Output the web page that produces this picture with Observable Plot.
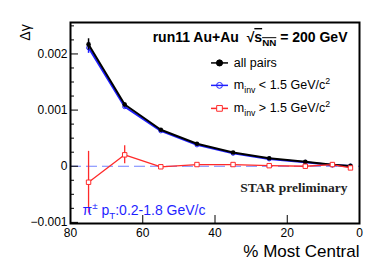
<!DOCTYPE html>
<html><head><meta charset="utf-8">
<script src="https://cdn.jsdelivr.net/npm/d3@7"></script>
<script src="https://cdn.jsdelivr.net/npm/@observablehq/plot@0.6"></script>
<style>body{margin:0;background:#fff} svg{display:block}</style>
</head><body><div id="chart"></div>
<script>
// ---- data ----
const centrality = [75, 65, 55, 45, 35, 25, 15, 7.5, 2.5];
const allPairs    = [0.00217, 0.00110, 0.00065, 0.00040, 0.000244, 0.000143, 0.000078, 0.000025, 0.000006];
const allPairsErr = [0.00010, 0.00003, 0.00001, 0.00001, 0.00001, 0.00001, 0.00001, 0.00001, 0.00001];
const lowMass     = [0.00211, 0.00106, 0.00063, 0.00038, 0.00023, 0.00013, 0.00007, 0.00002, 0.000003];
const lowMassErr  = [0.00010, 0.00003, 0.00001, 0.00001, 0.00001, 0.00001, 0.00001, 0.00001, 0.00001];
const highMass    = [-0.000285, 0.000203, -0.00001, 0.00003, 0.00003, 0.00001, 0.0, 0.00003, -0.00003];
const highMassErr = [0.00055, 0.00016, 0.00003, 0.00002, 0.00002, 0.00002, 0.00002, 0.00002, 0.00003];
const seriesNames = ["all pairs", "m_{inv} < 1.5 GeV/c^{2}", "m_{inv} > 1.5 GeV/c^{2}"];
const xTicks = [80, 60, 40, 20, 0];
const yTicks = [-0.001, 0, 0.001, 0.002];
const yTickLabels = ["\u22120.001", "0", "0.001", "0.002"];
const yMinorTicks = [-0.00075, -0.0005, -0.00025, 0.00025, 0.0005, 0.00075, 0.00125, 0.0015, 0.00175, 0.00225, 0.0025];
const titleText = "run11 Au+Au  \u221A!{s}?{NN} = 200 GeV";
const starText = "STAR preliminary";
const cutText = "\u03C0^{\u00B1} p_{T}:0.2-1.8 GeV/c";
const yLabel = "\u0394\u03B3";
const xLabel = "% Most Central";

// ---- build tables ----
const mk = (vals, errs) => centrality.map((x, i) => ({x, y: vals[i], e: errs[i]}));
const black = mk(allPairs, allPairsErr);
const blue = mk(lowMass, lowMassErr);
const red = mk(highMass, highMassErr);

const cBlack = "#000", cBlue = "#1f1fff", cRed = "#ff2a2a";
const legend = [
  {label: seriesNames[0], color: cBlack, symbol: "circle", fill: cBlack, r: 2.2, ly: 0.00184},
  {label: seriesNames[1], color: cBlue, symbol: "circle", fill: "none", r: 2, ly: 0.00144},
  {label: seriesNames[2], color: cRed, symbol: "square", fill: "#fff", r: 2.4, ly: 0.00103}
];
const legX1 = 41.1, legX2 = 36.4, legXd = 38.75, legXt = 34.8;

const font = "'Liberation Sans', Arial, Helvetica, sans-serif";
const errMarks = (data, color, w) => Plot.ruleX(data, {x: "x", y1: d => d.y - d.e, y2: d => d.y + d.e, stroke: color, strokeWidth: w});

const chart = Plot.plot({
  width: 374, height: 270,
  marginLeft: 70, marginRight: 15, marginTop: 22, marginBottom: 47,
  style: {fontFamily: font, background: "#fff", color: "#000"},
  x: {domain: [80, 0]},
  y: {domain: [-0.00102, 0.00256]},
  marks: [
    Plot.ruleY([0], {stroke: "#7383ff", strokeDasharray: "11,5", strokeWidth: 1.2}),
    errMarks(blue, cBlue, 1.5),
    Plot.line(blue, {x: "x", y: "y", stroke: cBlue, strokeWidth: 2}),
    Plot.dot(blue, {x: "x", y: "y", r: 2, stroke: cBlue, fill: "none", strokeWidth: 1}),
    errMarks(black, cBlack, 1.5),
    Plot.line(black, {x: "x", y: "y", stroke: cBlack, strokeWidth: 2}),
    Plot.dot(black, {x: "x", y: "y", r: 2.3, fill: cBlack}),
    errMarks(red, cRed, 1.3),
    Plot.line(red, {x: "x", y: "y", stroke: cRed, strokeWidth: 1.3}),
    Plot.dot(red, {x: "x", y: "y", symbol: "square", r: 2.5, stroke: cRed, fill: "#fff", strokeWidth: 1}),
    // legend
    Plot.link(legend, {x1: () => legX1, x2: () => legX2, y1: "ly", y2: "ly", stroke: "color", strokeWidth: 1.5}),
    Plot.dot(legend, {x: () => legXd, y: "ly", symbol: "symbol", r: "r", stroke: "color", fill: "fill", strokeWidth: 1}),
    Plot.text(legend, {x: () => legXt, y: "ly", text: "label", textAnchor: "start", fontSize: 12.5, fill: "#000"}),
    // annotations
    Plot.text([titleText], {frameAnchor: "top-right", dx: -12, dy: 15, textAnchor: "end", lineAnchor: "middle", fontWeight: "bold", fontSize: 14, fill: "#000"}),
    Plot.text([starText], {frameAnchor: "top-right", dx: -12, dy: 165, textAnchor: "end", lineAnchor: "middle", fontWeight: "bold", fontSize: 13.5, fontFamily: "'Liberation Serif', 'Times New Roman', serif", fill: "#222"}),
    Plot.text([cutText], {frameAnchor: "bottom-left", dx: 12, dy: -13, textAnchor: "start", lineAnchor: "middle", fontSize: 14, fill: cBlue}),
    Plot.text([yLabel], {frameAnchor: "top-left", dx: -45, dy: 10, rotate: -90, textAnchor: "middle", lineAnchor: "middle", fontSize: 14, fill: "#000"}),
    Plot.text([xLabel], {frameAnchor: "bottom-right", dx: 0, dy: 28, textAnchor: "end", lineAnchor: "middle", fontSize: 17, fill: "#000"}),
    // axes
    Plot.axisY(yMinorTicks, {anchor: "left", tickSize: -4, tickFormat: () => "", label: null}),
    Plot.axisY(yTicks, {anchor: "left", tickSize: -8, tickPadding: 11, tickFormat: d => yTickLabels[yTicks.indexOf(d)], fontSize: 12, label: null}),
    Plot.axisX(xTicks, {anchor: "bottom", tickSize: -8, tickPadding: 13, fontSize: 12, label: null}),
    Plot.frame({stroke: "#000", strokeWidth: 2})
  ]
});
document.getElementById("chart").appendChild(chart);

// ---- rich text: _{sub} ^{sup} !{overline} ?{overline sub} ----
const svgns = "http://www.w3.org/2000/svg";
function rich(el) {
  const s = el.textContent;
  if (!/[_^!?]\{/.test(s)) return;
  const base = parseFloat(getComputedStyle(el).fontSize) || 12;
  el.textContent = "";
  let shift = 0;
  const add = (txt, type) => {
    if (!txt) return;
    const t = document.createElementNS(svgns, "tspan");
    let target = 0;
    if (type === "_" || type === "?") target = base * 0.3;
    if (type === "^") target = -base * 0.4;
    t.setAttribute("dy", target - shift); shift = target;
    if (type === "_" || type === "?" || type === "^") t.setAttribute("font-size", base * 0.7);
    if (type === "!" || type === "?") t.setAttribute("text-decoration", "overline");
    t.textContent = txt;
    el.appendChild(t);
  };
  const re = /([_^!?])\{([^}]*)\}/g;
  let last = 0, m;
  while ((m = re.exec(s))) {
    add(s.slice(last, m.index), "");
    add(m[2], m[1]);
    last = re.lastIndex;
  }
  add(s.slice(last), "");
}
chart.querySelectorAll("text").forEach(rich);
</script>
</body></html>
